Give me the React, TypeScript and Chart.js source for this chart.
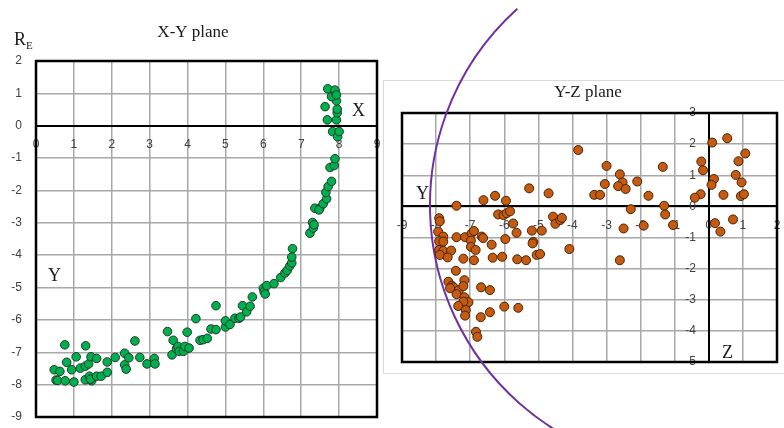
import React, { useEffect, useRef } from 'react';
import { Chart, registerables } from 'chart.js';

Chart.register(...registerables);

// ---------- X-Y plane (green) ----------
const XY_X_MIN = 0;
const XY_X_MAX = 9;
const XY_Y_MIN = -9;
const XY_Y_MAX = 2;

const XY_X = [
  0.48, 0.63, 0.53, 0.57, 0.77, 1.0, 0.76, 0.81, 0.94, 1.06,
  1.17, 1.31, 1.3, 1.39, 1.45, 1.3, 1.41, 1.47, 1.44, 1.6,
  1.6, 1.72, 1.88, 1.88, 2.09, 2.34, 2.34, 2.38, 2.45, 2.61,
  2.74, 2.93, 3.12, 3.14, 3.47, 3.59, 3.62, 3.71, 3.75, 3.78,
  3.89, 3.93, 3.99, 4.04, 4.22, 4.33, 4.41, 4.52, 4.62, 4.75,
  4.75, 5.0, 5.0, 5.12, 5.25, 5.36, 5.4, 5.45, 5.56, 5.65,
  5.71, 6.0, 6.02, 6.05, 6.09, 6.28, 6.46, 6.57, 6.63, 6.7,
  6.75, 6.75, 6.77, 7.23, 7.3, 7.32, 7.34, 7.36, 7.49, 7.47,
  7.58, 7.67, 7.65, 7.71, 7.8, 7.76, 7.87, 7.89, 7.83, 7.96,
  8.0, 7.69, 7.93, 7.95, 7.95, 7.63, 7.93, 7.8, 7.89, 7.7,
  7.89, 7.93,
];
const XY_Y = [
  -7.54, -7.59, -7.86, -7.87, -7.88, -7.92, -6.77, -7.31, -7.54, -7.14,
  -7.49, -6.8, -7.43, -7.36, -7.14, -7.85, -7.74, -7.88, -7.83, -7.19,
  -7.74, -7.74, -7.3, -7.62, -7.16, -7.03, -7.39, -7.52, -7.17, -6.65,
  -7.16, -7.36, -7.19, -7.36, -6.36, -7.08, -6.63, -6.89, -6.82, -6.97,
  -6.97, -6.82, -6.38, -6.87, -5.96, -6.63, -6.61, -6.57, -6.28, -6.3,
  -5.56, -6.22, -6.03, -6.14, -5.95, -5.95, -5.91, -5.56, -5.75, -5.58,
  -5.29, -5.02, -5.12, -5.2, -4.94, -4.88, -4.69, -4.55, -4.47, -4.33,
  -4.24, -4.06, -3.8, -3.32, -2.99, -3.16, -3.06, -2.55, -2.55, -2.6,
  -2.41, -2.26, -2.06, -1.88, -1.72, -1.29, -1.23, -1.02, -0.18, -0.34,
  -0.18, 0.18, 0.18, 0.4, 0.51, 0.59, 0.77, 0.9, 1.05, 1.14,
  1.1, 0.95,
];

// ---------- Y-Z plane (brown) ----------
const YZ_Y_MIN = -9;
const YZ_Y_MAX = 2;
const YZ_Z_MIN = -5;
const YZ_Z_MAX = 3;

const YZ_Y = [
  -3.83, -3.0, -3.05, -3.36, -3.19, -2.61, -2.53, -2.66, -2.44, -2.1,
  -1.77, -1.35, -1.31, -1.28, -2.29, -2.5, -1.91, -1.05, 0.1, 0.54,
  1.07, -0.22, 0.87, -0.17, 0.15, 0.79, 0.96, 0.08, -0.24, -0.41,
  0.43, 0.94, 1.03, 0.18, 0.34, 0.71, -2.61, -4.09,
  -5.27, -4.7, -6.27, -6.61, -5.95, -7.4, -6.18, -6.02, -5.93, -5.83,
  -7.91, -7.89, -5.74, -5.64, -5.19, -4.9, -4.57, -4.5, -4.36, -4.31,
  -7.94, -7.79, -7.91, -7.4, -7.15, -6.96, -6.89, -6.66, -6.62, -5.97,
  -5.15, -5.17, -6.98, -6.98, -6.84, -6.37, -7.79, -7.91, -7.79, -7.56,
  -7.89, -7.66, -7.2, -6.89, -6.34, -6.06, -5.62, -5.36, -5.05, -4.95,
  -7.42, -7.64, -7.17, -7.54, -7.49, -7.59, -7.33, -7.2, -7.4, -7.17,
  -7.05, -7.2, -7.35, -7.13, -7.15, -6.68, -6.42, -6.0, -5.59, -6.69,
  -6.42, -6.83, -6.79,
];
const YZ_Z = [
  1.81, 1.3, 0.72, 0.37, 0.37, 1.03, 0.77, 0.65, 0.56, 0.8,
  0.34, 1.27, 0.02, -0.26, -0.09, -0.71, -0.62, -0.6, 2.05, 2.19,
  1.7, 1.44, 1.45, 1.16, 0.88, 1.01, 0.77, 0.69, 0.39, 0.28,
  0.37, 0.33, 0.39, -0.54, -0.81, -0.42, -1.73, -1.37,
  0.58, 0.42, 0.34, 0.2, 0.18, 0.02, -0.26, -0.28, -0.22, -0.16,
  -0.38, -0.48, -0.55, -0.85, -0.78, -0.78, -0.33, -0.56, -0.44, -0.37,
  -0.81, -0.97, -1.12, -0.99, -0.99, -0.87, -0.79, -0.97, -1.02, -1.05,
  -1.14, -1.19, -1.1, -1.3, -1.4, -1.23, -1.13, -1.4, -1.43, -1.42,
  -1.56, -1.64, -1.68, -1.73, -1.65, -1.62, -1.7, -1.73, -1.56, -1.53,
  -2.07, -2.42, -2.37, -2.55, -2.6, -2.63, -2.69, -2.56, -2.82, -2.92,
  -3.08, -3.06, -3.2, -3.33, -3.51, -2.6, -2.69, -3.22, -3.26, -3.56,
  -3.4, -4.03, -4.19,
];

// Purple boundary arc on the Y-Z plane (centre in data units, radius in Y units)
const ARC_CENTER_Y = -0.43;
const ARC_CENTER_Z = 0.04;
const ARC_RADIUS_Y = 7.75;
const ARC_START_DEG = 110;
const ARC_END_DEG = 228;

const TICK_FONT = { family: '"Liberation Sans", Arial, sans-serif', size: 12 };
const TICK_COLOR = '#404040';
const GRID_COLOR = '#a8a8a8';
const SERIF = '"Liberation Serif", "Times New Roman", serif';

function frame(chart: any) {
  const { left, top, right, bottom } = chart.chartArea;
  const ctx = chart.ctx;
  ctx.save();
  ctx.strokeStyle = '#000';
  ctx.lineWidth = 2.5;
  ctx.strokeRect(left, top, right - left, bottom - top);
  ctx.restore();
}

// move the tick labels of the centre-positioned axes away from their axis lines
function shiftLabels(chart: any, gapX: number, gapY: number) {
  const xs = chart.scales.x;
  const ys = chart.scales.y;
  xs.getLabelItems(chart.chartArea).forEach((it: any) => {
    if (!it.__shifted) {
      it.options.translation[1] += gapX;
      it.__shifted = true;
    }
  });
  ys.getLabelItems(chart.chartArea).forEach((it: any) => {
    if (!it.__shifted) {
      it.options.translation[0] -= gapY;
      it.__shifted = true;
    }
  });
}

function text(ctx: any, s: string, x: number, y: number, font: string, align: any = 'left') {
  ctx.font = font;
  ctx.fillStyle = '#1a1a1a';
  ctx.textAlign = align;
  ctx.textBaseline = 'alphabetic';
  ctx.fillText(s, x, y);
}

export default function App() {
  const leftRef = useRef<HTMLCanvasElement>(null);
  const rightRef = useRef<HTMLCanvasElement>(null);

  useEffect(() => {
    const leftPlugin = {
      id: 'leftDeco',
      beforeDraw(chart: any) {
        shiftLabels(chart, 12, 14);
      },
      beforeDatasetsDraw(chart: any) {
        frame(chart);
      },
      afterDraw(chart: any) {
        const ctx = chart.ctx;
        ctx.save();
        text(ctx, 'X-Y plane', 193, 37, `17px ${SERIF}`, 'center');
        text(ctx, 'R', 14, 45, `18px ${SERIF}`);
        text(ctx, 'E', 26, 49, `11px ${SERIF}`);
        text(ctx, 'X', 352, 116, `18px ${SERIF}`);
        text(ctx, 'Y', 48, 281, `18px ${SERIF}`);
        ctx.restore();
      },
    };

    const rightPlugin = {
      id: 'rightDeco',
      beforeDraw(chart: any) {
        shiftLabels(chart, 12, 13);
        const ctx = chart.ctx;
        ctx.save();
        ctx.fillStyle = '#fff';
        ctx.fillRect(0.5, 80.5, 420, 293);
        ctx.strokeStyle = '#d9d9d9';
        ctx.lineWidth = 1;
        ctx.strokeRect(0.5, 80.5, 420, 293);
        ctx.restore();
      },
      beforeDatasetsDraw(chart: any) {
        frame(chart);
        const xs = chart.scales.x;
        const ys = chart.scales.y;
        const cx = xs.getPixelForValue(ARC_CENTER_Y);
        const cy = ys.getPixelForValue(ARC_CENTER_Z);
        const r = xs.getPixelForValue(ARC_CENTER_Y + ARC_RADIUS_Y) - cx;
        const ctx = chart.ctx;
        ctx.save();
        ctx.strokeStyle = '#7030A0';
        ctx.lineWidth = 2;
        ctx.beginPath();
        ctx.arc(cx, cy, r, (ARC_START_DEG * Math.PI) / 180, (ARC_END_DEG * Math.PI) / 180, false);
        ctx.stroke();
        ctx.restore();
      },
      afterDraw(chart: any) {
        const ctx = chart.ctx;
        ctx.save();
        text(ctx, 'Y-Z plane', 205, 97, `17px ${SERIF}`, 'center');
        text(ctx, 'Y', 33, 199, `18px ${SERIF}`);
        text(ctx, 'Z', 339, 358, `18px ${SERIF}`);
        ctx.restore();
      },
    };

    const left = new Chart(leftRef.current as HTMLCanvasElement, {
      type: 'scatter',
      data: {
        datasets: [
          {
            data: XY_X.map((x, i) => ({ x, y: XY_Y[i] })),
            backgroundColor: '#00B050',
            borderColor: '#1d3b22',
            borderWidth: 1,
            pointRadius: 4.3,
          },
        ],
      },
      options: {
        responsive: false,
        animation: false,
        events: [],
        devicePixelRatio: 1,
        layout: { padding: { left: 36, top: 61, right: 6, bottom: 11 } },
        plugins: { legend: { display: false }, tooltip: { enabled: false } },
        scales: {
          x: {
            type: 'linear',
            position: { y: 0 } as any,
            min: XY_X_MIN,
            max: XY_X_MAX,
            ticks: { stepSize: 1, font: TICK_FONT, color: TICK_COLOR, padding: 0 },
            grid: { color: GRID_COLOR, lineWidth: 1.5, drawTicks: false },
            border: { color: '#000', width: 2 },
          },
          y: {
            type: 'linear',
            position: { x: 0 } as any,
            min: XY_Y_MIN,
            max: XY_Y_MAX,
            ticks: { stepSize: 1, font: TICK_FONT, color: TICK_COLOR, padding: 0 },
            grid: { color: GRID_COLOR, lineWidth: 1.5, drawTicks: false },
            border: { color: '#000', width: 2 },
          },
        },
      },
      plugins: [leftPlugin],
    });

    const right = new Chart(rightRef.current as HTMLCanvasElement, {
      type: 'scatter',
      data: {
        datasets: [
          {
            data: YZ_Y.map((x, i) => ({ x, y: YZ_Z[i] })),
            backgroundColor: '#C55A11',
            borderColor: '#4a2306',
            borderWidth: 1,
            pointRadius: 4.5,
          },
        ],
      },
      options: {
        responsive: false,
        animation: false,
        events: [],
        devicePixelRatio: 1,
        layout: { padding: { left: 19, top: 113, right: 7, bottom: 66 } },
        plugins: { legend: { display: false }, tooltip: { enabled: false } },
        scales: {
          x: {
            type: 'linear',
            position: { y: 0 } as any,
            min: YZ_Y_MIN,
            max: YZ_Y_MAX,
            ticks: { stepSize: 1, font: TICK_FONT, color: TICK_COLOR, padding: 0 },
            grid: { color: GRID_COLOR, lineWidth: 1.5, drawTicks: false },
            border: { color: '#000', width: 2 },
          },
          y: {
            type: 'linear',
            position: { x: 0 } as any,
            min: YZ_Z_MIN,
            max: YZ_Z_MAX,
            ticks: { stepSize: 1, font: TICK_FONT, color: TICK_COLOR, padding: 0 },
            grid: { color: GRID_COLOR, lineWidth: 1.5, drawTicks: false },
            border: { color: '#000', width: 2 },
          },
        },
      },
      plugins: [rightPlugin],
    });

    return () => {
      left.destroy();
      right.destroy();
    };
  }, []);

  return (
    <div style={{ position: 'absolute', left: 0, top: 0, width: 784, height: 428, background: '#fff', overflow: 'hidden' }}>
      <canvas ref={leftRef} width={383} height={428} style={{ position: 'absolute', left: 0, top: 0 }} />
      <canvas ref={rightRef} width={401} height={428} style={{ position: 'absolute', left: 383, top: 0 }} />
    </div>
  );
}
